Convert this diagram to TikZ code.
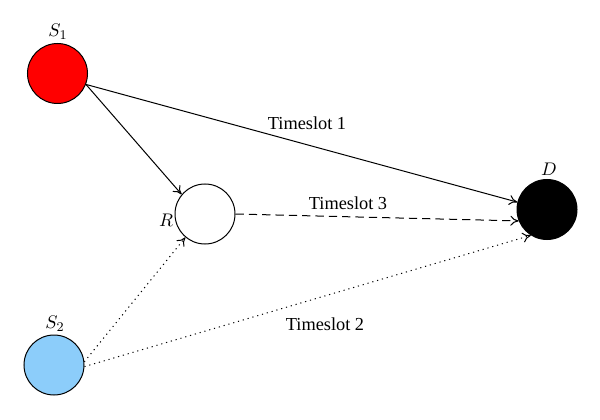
\documentclass[tikz,border=0pt]{standalone}
\usepackage{fontspec}
\setmainfont{Liberation Serif}
\usetikzlibrary{arrows.meta}
\begin{document}
\begin{tikzpicture}[x=0.6pt,y=-0.6pt,
  nd/.style={circle,draw=black,line width=0.6pt,minimum size=36pt,inner sep=0pt},
  lbl/.style={font=\fontsize{11}{13}\selectfont,inner sep=1pt},
  conn/.style={line width=0.6pt,-{To[length=5pt,width=6pt]}},
  dots/.style={dash pattern=on 0.7pt off 2.3pt}]
\useasboundingbox (0,0) rectangle (600,420);
\definecolor{sred}{RGB}{255,0,0}
\definecolor{sblue}{RGB}{140,205,250}
\node[nd,fill=sred] (S1) at (57.5,73.5) {};
\node[nd,fill=white] (R) at (205,214) {};
\node[nd,fill=black] (D) at (547,209.5) {};
\node[nd,fill=sblue] (S2) at (54,365) {};
\node[lbl] (lS1) at (58,32) {$S_1$};
\node[lbl] (lS2) at (55,324) {$S_2$};
\node[lbl] (lR) at (166,220) {$R$};
\node[lbl] (lD) at (549,169) {$D$};
\draw[conn] (S1.-21) -- (D.166);
\draw[conn] (S1.-21) -- (R.140);
\draw[conn,dashed,dash pattern=on 5pt off 3pt] (R.0) -- (D.202);
\draw[conn,dots] (S2.6) -- (R.230);
\draw[conn,dots] (S2.-3) -- (D.238);
\node[lbl] (t1) at (307,123) {Timeslot 1};
\node[lbl] (t3) at (348,203) {Timeslot 3};
\node[lbl] (t2) at (325,324) {Timeslot 2};
\end{tikzpicture}
\end{document}
